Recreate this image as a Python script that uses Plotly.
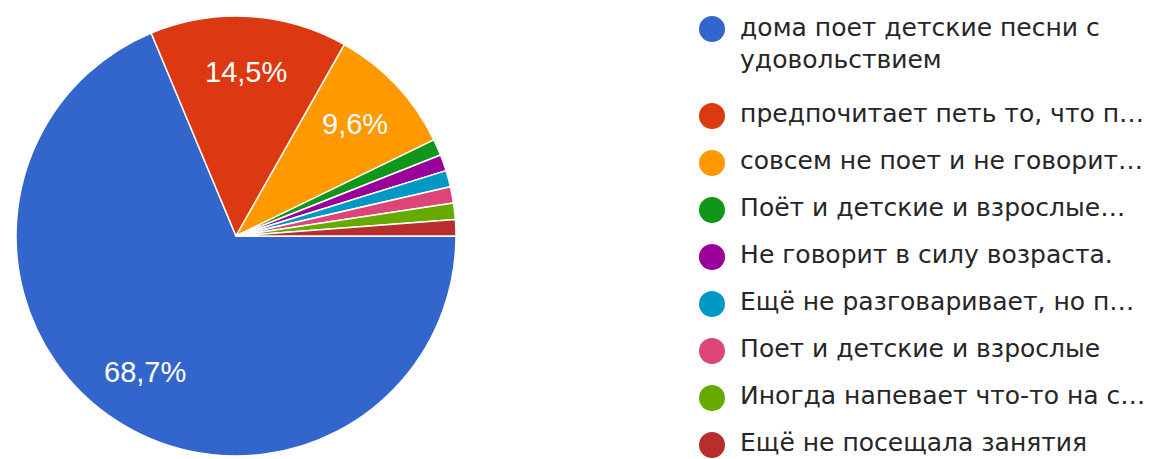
import math
import plotly.graph_objects as go

labels = [
    "дома поет детские песни с<br>удовольствием",
    "предпочитает петь то, что п…",
    "совсем не поет и не говорит…",
    "Поёт и детские и взрослые…",
    "Не говорит в силу возраста.",
    "Ещё не разговаривает, но п…",
    "Поет и детские и взрослые",
    "Иногда напевает что-то на с…",
    "Ещё не посещала занятия",
]
shares = [68.7, 14.5, 9.6, 1.2, 1.2, 1.2, 1.2, 1.2, 1.2]
colors = ["#3366cc", "#dc3912", "#ff9900", "#109618", "#990099",
          "#0099c6", "#dd4477", "#66aa00", "#b82e2e"]

W, H = 1165, 459
CX, CY, R = 236.0, 236.0, 220.0
START = 90.0  # degrees clockwise from 12 o'clock

fig = go.Figure()
fig.add_trace(go.Pie(
    labels=labels, values=shares, sort=False, direction="clockwise", rotation=START,
    marker=dict(colors=colors, line=dict(color="white", width=1.5)),
    textinfo="none", hoverinfo="label+percent", showlegend=False,
    domain=dict(x=[(CX - R) / W, (CX + R) / W], y=[1 - (CY + R) / H, 1 - (CY - R) / H]),
))

# percentage labels placed along each slice's mid-angle
total = sum(shares)
cum = 0.0
annotations = []
for v in shares:
    mid = math.radians(START + 360.0 * (cum + v / 2) / total)
    cum += v
    if v < 5:
        continue
    px = CX + 0.745 * R * math.sin(mid)
    py = CY - 0.745 * R * math.cos(mid)
    annotations.append(dict(
        x=px / W, y=1 - py / H, xref="paper", yref="paper",
        text=f"{v:.1f}%".replace(".", ","), showarrow=False,
        xanchor="center", yanchor="middle",
        font=dict(family="Liberation Sans, Arial", size=29, color="white"),
    ))

# legend drawn as a scatter on a hidden axis
row_px = 47.0
line_rows = 33.0 / row_px
nlines = [lab.count("<br>") + 1 for lab in labels]
ys = []
acc = 0.0
for n in nlines:
    ys.append(acc)
    acc += 1 + (n - 1) * 0.85
text_y = [y + (n - 1) * line_rows / 2 for y, n in zip(ys, nlines)]

fig.add_trace(go.Scatter(
    x=[0] * len(labels), y=ys, mode="markers", xaxis="x", yaxis="y",
    marker=dict(color=colors, size=26, symbol="circle", line=dict(width=0)),
    cliponaxis=False, hoverinfo="skip", showlegend=False,
))
fig.add_trace(go.Scatter(
    x=[0.062] * len(labels), y=text_y, mode="text", text=labels,
    textposition="middle right", xaxis="x", yaxis="y",
    textfont=dict(family="DejaVu Sans", size=25, color="#262626"),
    cliponaxis=False, hoverinfo="skip", showlegend=False,
))

top_px = 29.0
fig.update_layout(
    width=W, height=H, margin=dict(l=0, r=0, t=0, b=0),
    paper_bgcolor="white", plot_bgcolor="white",
    annotations=annotations,
    xaxis=dict(domain=[712 / W, 1], range=[0, 1], visible=False, fixedrange=True),
    yaxis=dict(domain=[0, 1], range=[(H - top_px) / row_px, -top_px / row_px],
               visible=False, fixedrange=True),
)

fig.write_html(
    "out.html",
    config={"displayModeBar": False},
    post_script="document.body.style.margin='0';document.body.style.padding='0';"
                "document.body.style.overflow='hidden';",
)
